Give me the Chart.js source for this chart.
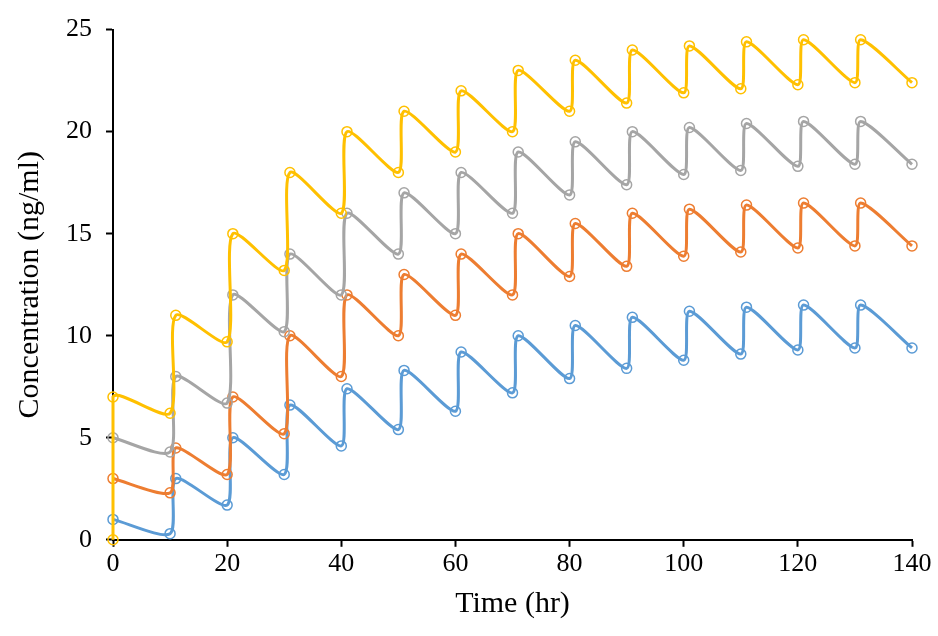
<!DOCTYPE html>
<html>
<head>
<meta charset="utf-8">
<script src="https://cdn.jsdelivr.net/npm/chart.js@4/dist/chart.umd.min.js"></script>
<style>
  html, body { margin: 0; background: #fff; }
  #wrap { width: 938px; height: 636px; }
</style>
</head>
<body>
<div id="wrap"><canvas id="grafico"></canvas></div>
<script>
// tiempos de las muestras (dosis cada 10 h)
const tiempos = [0, 10, 11, 20, 21, 30, 31, 40, 41, 50, 51, 60, 61, 70, 71, 80, 81, 90, 91, 100, 101, 110, 111, 120, 121, 130, 131, 140];
const tiemposAmarillo = [0].concat(tiempos);

const serieAzul = [1, 0.3, 3, 1.7, 5, 3.2, 6.6, 4.6, 7.4, 5.4, 8.3, 6.3, 9.2, 7.2, 10, 7.9, 10.5, 8.4, 10.9, 8.8, 11.2, 9.1, 11.4, 9.3, 11.5, 9.4, 11.5, 9.4];
const serieNaranja = [3, 2.3, 4.5, 3.2, 7, 5.2, 10, 8, 12, 10, 13, 11, 14, 12, 15, 12.9, 15.5, 13.4, 16, 13.9, 16.2, 14.1, 16.4, 14.3, 16.5, 14.4, 16.5, 14.4];
const serieGris = [5, 4.3, 8, 6.7, 12, 10.2, 14, 12, 16, 14, 17, 15, 18, 16, 19, 16.9, 19.5, 17.4, 20, 17.9, 20.2, 18.1, 20.4, 18.3, 20.5, 18.4, 20.5, 18.4];
const serieAmarilla = [0, 7, 6.2, 11, 9.7, 15, 13.2, 18, 16, 20, 18, 21, 19, 22, 20, 23, 21, 23.5, 21.4, 24, 21.9, 24.2, 22.1, 24.4, 22.3, 24.5, 22.4, 24.5, 22.4];

const ticksX = [0, 20, 40, 60, 80, 100, 120, 140];
const ticksY = [0, 5, 10, 15, 20, 25];

function puntos(xs, ys) {
    return xs.map((x, i) => ({ x: x, y: ys[i] }));
}

function serie(datos, color) {
    return {
        data: datos,
        borderColor: color,
        pointBorderColor: color,
        pointBackgroundColor: 'rgba(0,0,0,0)',
        pointRadius: 5,
        pointBorderWidth: 1.5,
        borderWidth: 3,
        tension: 0.25,
        showLine: true,
        clip: false
    };
}

const fuente = 'Liberation Serif';
const ctx = document.getElementById('grafico').getContext('2d');
new Chart(ctx, {
    type: 'scatter',
    data: {
        datasets: [
            serie(puntos(tiemposAmarillo, serieAmarilla), '#FFC000'),
            serie(puntos(tiempos, serieGris), '#A5A5A5'),
            serie(puntos(tiempos, serieNaranja), '#ED7D31'),
            serie(puntos(tiempos, serieAzul), '#5B9BD5')
        ]
    },
    options: {
        responsive: true,
        maintainAspectRatio: false,
        animation: false,
        layout: { padding: { top: 10, right: 26, left: 8, bottom: 14 } },
        plugins: { legend: { display: false }, tooltip: { enabled: false } },
        scales: {
            x: {
                type: 'linear', min: 0, max: 140,
                afterBuildTicks: a => { a.ticks = ticksX.map(v => ({ value: v })); },
                grid: { display: true, drawOnChartArea: false, drawTicks: true, tickLength: 7, color: '#000', tickWidth: 2 },
                border: { color: '#000', width: 2 },
                ticks: { color: '#000', font: { family: fuente, size: 26 }, maxRotation: 0, padding: 2 },
                title: { display: true, text: 'Time (hr)', color: '#000', font: { family: fuente, size: 30 }, padding: { top: 4, bottom: 0 } },
            },
            y: {
                min: 0, max: 25,
                afterBuildTicks: a => { a.ticks = ticksY.map(v => ({ value: v })); },
                grid: { display: true, drawOnChartArea: false, drawTicks: true, tickLength: 7, color: '#000', tickWidth: 2 },
                border: { color: '#000', width: 2 },
                ticks: { color: '#000', font: { family: fuente, size: 26 }, padding: 14 },
                title: { display: true, text: 'Concentration (ng/ml)', color: '#000', font: { family: fuente, size: 30 }, padding: 4 }
            }
        }
    }
});
</script>
</body>
</html>
